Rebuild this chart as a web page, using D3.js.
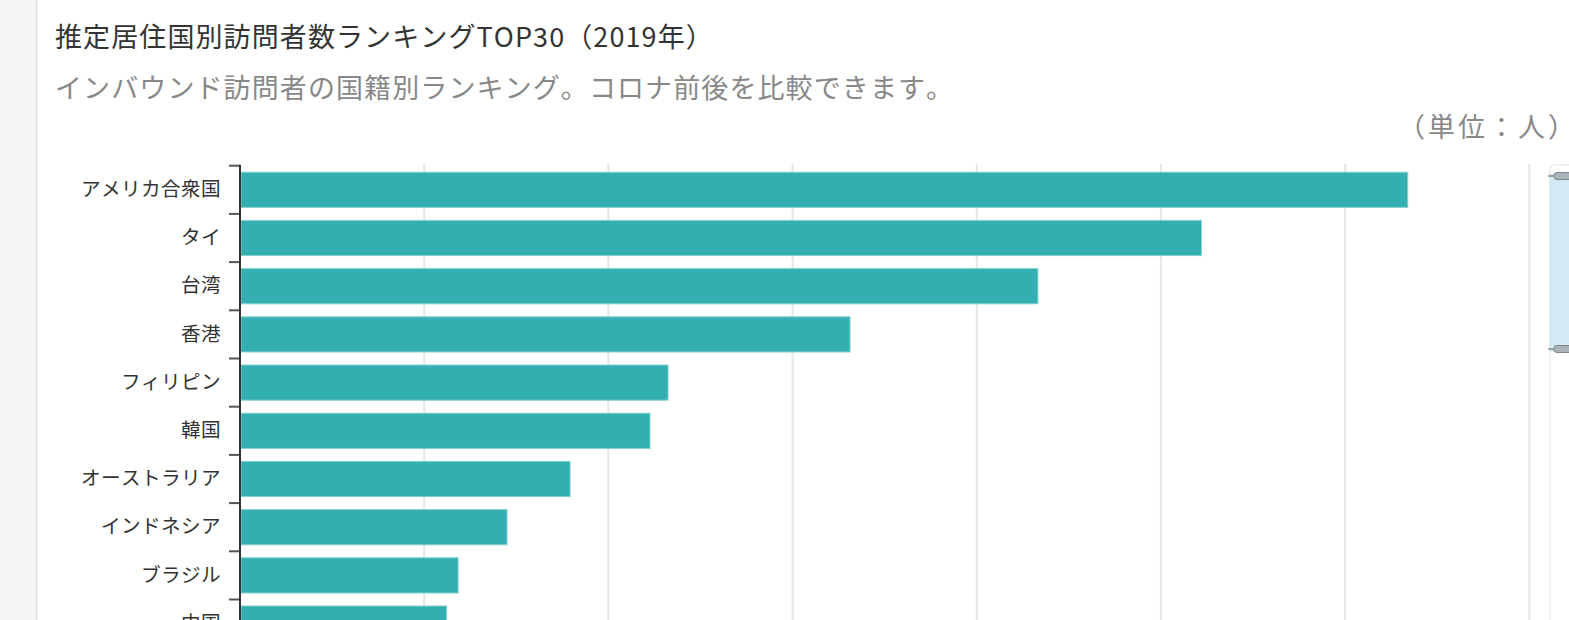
<!DOCTYPE html>
<html>
<head>
<meta charset="utf-8">
<script src="https://cdn.jsdelivr.net/npm/d3@7"></script>
<style>
  html, body { margin: 0; padding: 0; background: #fff; overflow: hidden; }
  svg { display: block; font-family: "Noto Sans CJK JP", "Noto Sans", sans-serif; }
  svg text { font-kerning: none; }
</style>
</head>
<body>
<div id="chart"></div>
<script>
const WIDTH = 1569;
const HEIGHT = 620;

// top ranking (visible part), values in 人
const countries = ["アメリカ合衆国", "タイ", "台湾", "香港", "フィリピン", "韓国", "オーストラリア", "インドネシア", "ブラジル", "中国"];
const visitors = [3170, 2610, 2166, 1656, 1162, 1113, 896, 725, 592, 561];
const xTicks = [0, 500, 1000, 1500, 2000, 2500, 3000, 3500];

const title = "推定居住国別訪問者数ランキングTOP30（2019年）";
const subtitle = "インバウンド訪問者の国籍別ランキング。コロナ前後を比較できます。";
const unitLabel = "（単位：人）";

const data = countries.map((c, i) => ({ name: c, value: visitors[i] }));

const svg = d3.select("#chart")
    .append("svg")
        .attr("width", WIDTH)
        .attr("height", HEIGHT)

// grey side panel on the left
svg.append("rect")
    .attr("x", 0).attr("y", 0)
    .attr("width", 36).attr("height", HEIGHT)
    .attr("fill", "#f4f4f4")
svg.append("line")
    .attr("x1", 36.5).attr("x2", 36.5)
    .attr("y1", 0).attr("y2", HEIGHT)
    .attr("stroke", "#e0e0e0")
    .attr("stroke-width", 1.5)

svg.append("text")
    .attr("x", 55).attr("y", 35)
    .attr("dominant-baseline", "central")
    .attr("font-size", 27)
    .attr("letter-spacing", 1.1)
    .attr("fill", "#333")
    .text(title)

svg.append("text")
    .attr("x", 55).attr("y", 86)
    .attr("dominant-baseline", "central")
    .attr("font-size", 27)
    .attr("letter-spacing", 1.1)
    .attr("fill", "#888")
    .text(subtitle)

svg.append("text")
    .attr("x", 1398).attr("y", 125)
    .attr("dominant-baseline", "central")
    .attr("font-size", 27)
    .attr("letter-spacing", 3)
    .attr("fill", "#888")
    .text(unitLabel)

const x = d3.scaleLinear()
    .domain([0, 3500])
    .range([240, 1529.3])

const step = 48.2;
const top0 = 165.7;
const y = d3.scaleBand()
    .domain(countries)
    .range([top0, top0 + step * countries.length])
    .paddingInner(0.27)
    .paddingOuter(0.135)

// vertical grid
svg.append("g")
    .selectAll("line")
    .data(xTicks.slice(1))
    .enter()
    .append("line")
        .attr("x1", d => x(d))
        .attr("x2", d => x(d))
        .attr("y1", 164)
        .attr("y2", HEIGHT)
        .attr("stroke", "#e6e6e6")
        .attr("stroke-width", 2)

// bars
svg.append("g")
    .selectAll("rect")
    .data(data)
    .enter()
    .append("rect")
        .attr("x", x(0) + 1)
        .attr("y", d => y(d.name))
        .attr("width", d => x(d.value) - x(0) - 1)
        .attr("height", y.bandwidth())
        .attr("fill", "#33aeb1")
        .attr("stroke", "#86d0d0")
        .attr("stroke-width", 1)

// category labels
const yAxis = svg.append("g")
    .attr("transform", `translate(${x(0)},0)`)
    .call(d3.axisLeft(y).tickSize(0).tickPadding(19))
yAxis.select(".domain").remove()
yAxis.selectAll("text")
    .attr("font-size", 19.6)
    .attr("letter-spacing", 0.4)
    .attr("fill", "#333")
    .attr("font-family", "Noto Sans CJK JP")

// boundary ticks + axis line
const bounds = countries.map(c => y(c) - y.step() * y.paddingOuter())
svg.append("g")
    .selectAll("line")
    .data(bounds)
    .enter()
    .append("line")
        .attr("x1", 229).attr("x2", x(0))
        .attr("y1", d => d).attr("y2", d => d)
        .attr("stroke", "#555")
        .attr("stroke-width", 2)
svg.append("line")
    .attr("x1", x(0)).attr("x2", x(0))
    .attr("y1", top0 - 1).attr("y2", HEIGHT)
    .attr("stroke", "#333")
    .attr("stroke-width", 2)

// data zoom slider on the right edge
const slider = svg.append("g")
slider.append("rect")
    .attr("x", 1550).attr("y", 165)
    .attr("width", 40).attr("height", 500)
    .attr("rx", 5)
    .attr("fill", "#fff")
    .attr("stroke", "#e2e2e2")
slider.append("rect")
    .attr("x", 1550).attr("y", 174)
    .attr("width", 30).attr("height", 177)
    .attr("fill", "#d3e9f5")
    .attr("stroke", "#b9d9ec")
    .attr("stroke-width", 0.5)
const handles = [176, 349]
slider.selectAll(".handle")
    .data(handles)
    .enter()
    .append("g")
    .each(function (d) {
        const g = d3.select(this)
        g.append("line")
            .attr("x1", 1548).attr("x2", 1555)
            .attr("y1", d).attr("y2", d)
            .attr("stroke", "#8a9296")
            .attr("stroke-width", 1.5)
        g.append("rect")
            .attr("x", 1554).attr("y", d - 3.5)
            .attr("width", 30).attr("height", 7)
            .attr("rx", 3)
            .attr("fill", "#a9b3b8")
            .attr("stroke", "#7d878c")
            .attr("stroke-width", 1)
    })
</script>
</body>
</html>
